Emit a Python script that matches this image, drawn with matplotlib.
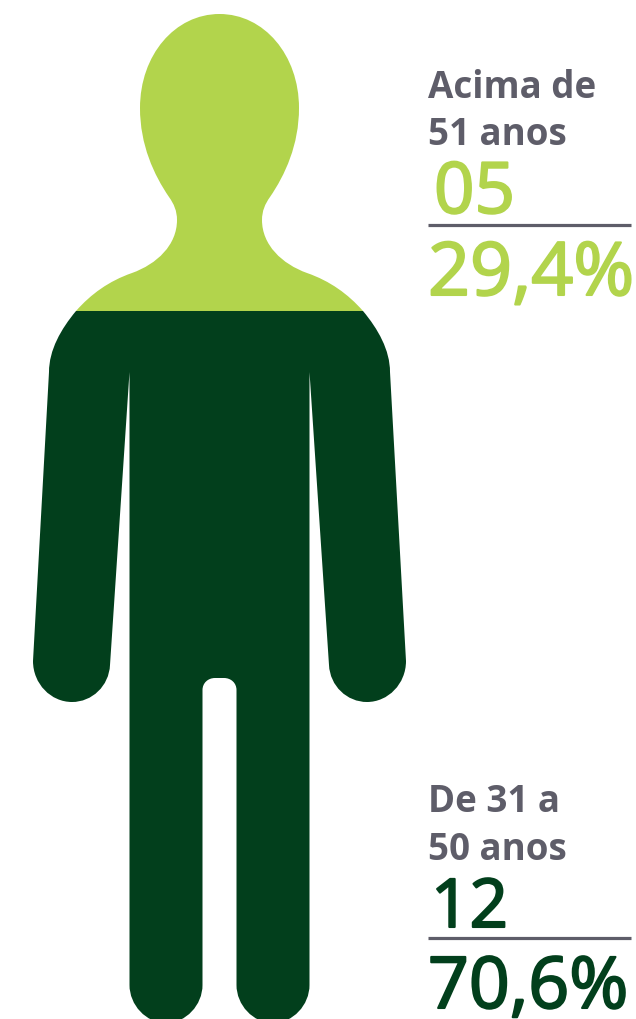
import matplotlib
matplotlib.use("Agg")
import matplotlib.pyplot as plt
import matplotlib.patheffects as pe
from matplotlib.path import Path
from matplotlib.patches import PathPatch, Rectangle

# data
age_groups = ["Acima de\n51 anos", "De 31 a\n50 anos"]
counts = ["05", "12"]
shares = [29.4, 70.6]
share_labels = ["29,4%", "70,6%"]

light = "#B2D44C"
dark = "#023F1C"
grey = "#5E5D69"

W, H = 636, 1019
CX = 219.5
TOP, BOTTOM = 14, 1023


# right half of the person, top to bottom, mirrored below
right_side = [
    (Path.CURVE4, (264, 14)), (Path.CURVE4, (299, 55)), (Path.CURVE4, (299, 108)),
    (Path.CURVE4, (299, 145)), (Path.CURVE4, (285, 175)), (Path.CURVE4, (270, 197)),
    (Path.CURVE4, (265, 204)), (Path.CURVE4, (262, 211)), (Path.CURVE4, (262, 220)),
    (Path.CURVE4, (262, 245)), (Path.CURVE4, (282, 264)), (Path.CURVE4, (307, 273)),
    (Path.CURVE4, (330, 281)), (Path.CURVE4, (348, 294)), (Path.CURVE4, (363, 311)),
    (Path.CURVE4, (378, 329)), (Path.CURVE4, (390, 350)), (Path.CURVE4, (390, 372)),
    (Path.LINETO, (406, 661)),
    (Path.CURVE4, (406, 684)), (Path.CURVE4, (388, 702)), (Path.CURVE4, (367, 702)),
    (Path.CURVE4, (347, 702)), (Path.CURVE4, (330, 686)), (Path.CURVE4, (329, 665)),
    (Path.LINETO, (309.5, 372)),
    (Path.LINETO, (309.5, 985)),
    (Path.CURVE4, (309.5, 1005)), (Path.CURVE4, (293, 1023)), (Path.CURVE4, (273, 1023)),
    (Path.CURVE4, (253, 1023)), (Path.CURVE4, (236.5, 1005)), (Path.CURVE4, (236.5, 985)),
    (Path.LINETO, (236.5, 690)),
    (Path.CURVE4, (236.5, 683)), (Path.CURVE4, (231, 678)), (Path.CURVE4, (224, 678)),
    (Path.LINETO, (CX, 678)),
]

verts = [(CX, TOP)]
codes = [Path.MOVETO]
for code, pt in right_side:
    verts.append(pt)
    codes.append(code)
# back up the left side
for i in range(len(right_side) - 2, -1, -1):
    code = right_side[i + 1][0]
    x, y = right_side[i][1]
    verts.append((2 * CX - x, y))
    codes.append(code)
verts.append((CX, TOP))
codes.append(right_side[0][0])
person = Path(verts, codes)

fig = plt.figure(figsize=(W / 100, H / 100), dpi=100)
ax = fig.add_axes([0, 0, 1, 1])
ax.set_xlim(0, W)
ax.set_ylim(H, 0)
ax.axis("off")

# fill the person from the head down, split by share
split = TOP + (BOTTOM - TOP) * shares[0] / 100
for y0, y1, col in [(TOP - 2, split, light), (split, BOTTOM + 2, dark)]:
    clip = Rectangle((0, y0), W, y1 - y0, transform=ax.transData)
    p = PathPatch(person, facecolor=col, edgecolor="none", lw=0)
    ax.add_patch(p)
    p.set_clip_path(clip)

font = ["Open Sans", "DejaVu Sans"]
label_y = [(98, 145), (812, 860)]
count_pos = [(434, 213), (431, 927)]
count_size = [51, 48.5]
rule_y = [224.5, 937.5]
share_y = [295, 1008]
share_size = [53, 51.5]
cols = [light, dark]

for i in range(2):
    thick = [pe.withStroke(linewidth=1.5, foreground=cols[i])]
    lines = age_groups[i].split("\n")
    for line, y in zip(lines, label_y[i]):
        ax.text(428, y, line, color=grey, fontsize=26.5, fontweight="bold",
                family=font, va="baseline", ha="left")
    ax.text(count_pos[i][0], count_pos[i][1], counts[i], color=cols[i], fontsize=count_size[i],
            family=font, va="baseline", ha="left", path_effects=thick)
    ax.plot([428, 631], [rule_y[i], rule_y[i]], color=grey, lw=2.3, solid_capstyle="butt")
    ax.text(428, share_y[i], share_labels[i], color=cols[i], fontsize=share_size[i],
            family=font, va="baseline", ha="left", path_effects=thick)

fig.savefig("out.png", dpi=100)
